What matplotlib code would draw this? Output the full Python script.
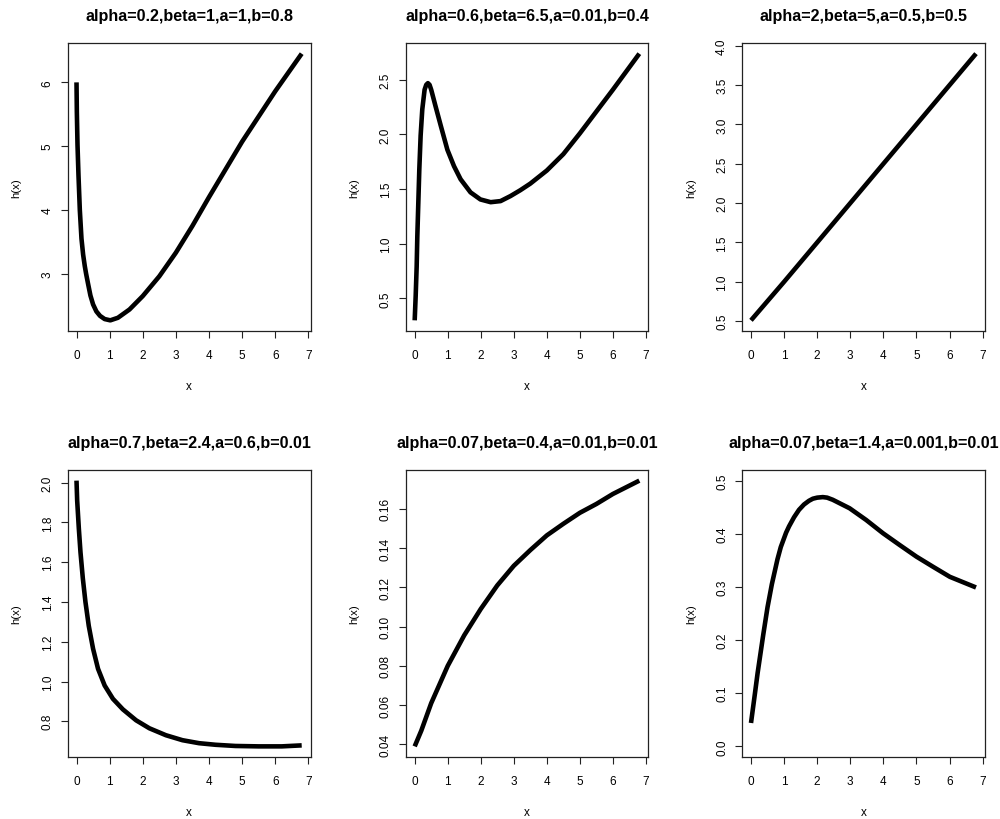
import matplotlib
matplotlib.use("Agg")
import matplotlib.pyplot as plt
from matplotlib.ticker import FixedLocator, FormatStrFormatter

plt.rcParams['font.family'] = ['Liberation Sans', 'DejaVu Sans']

# values
x1 = [0, 0.01, 0.03, 0.06, 0.10, 0.15, 0.20, 0.25, 0.29, 0.35, 0.42, 0.50, 0.60,
      0.71, 0.85, 1.02, 1.25, 1.6, 2.0, 2.5, 3.0, 3.5, 4.0, 5.0, 6.0, 6.8]
h1 = [6.0, 5.54, 5.02, 4.54, 4.0, 3.55, 3.3, 3.12, 3.0, 2.84, 2.66, 2.52, 2.41,
      2.34, 2.29, 2.27, 2.31, 2.44, 2.65, 2.96, 3.33, 3.75, 4.2, 5.07, 5.86, 6.45]

x2 = [0, 0.03, 0.06, 0.08, 0.11, 0.14, 0.18, 0.23, 0.30, 0.35, 0.40, 0.45, 0.50,
      0.63, 0.79, 0.99, 1.19, 1.39, 1.69, 1.99, 2.3, 2.6, 2.9, 3.2, 3.5, 4.0,
      4.5, 5.0, 5.5, 6.0, 6.8]
h2 = [0.298, 0.52, 0.79, 1.07, 1.375, 1.68, 1.99, 2.23, 2.41, 2.455, 2.47, 2.455,
      2.41, 2.26, 2.08, 1.86, 1.71, 1.59, 1.47, 1.405, 1.38, 1.39, 1.436, 1.49,
      1.55, 1.67, 1.82, 2.01, 2.21, 2.41, 2.74]

x3 = [0, 1, 2, 3, 4, 5, 6, 6.8]
h3 = [0.51, 1.0, 1.5, 2.0, 2.5, 3.0, 3.5, 3.9]

x4 = [0, 0.02, 0.07, 0.12, 0.19, 0.27, 0.37, 0.5, 0.65, 0.85, 1.1, 1.4, 1.8,
      2.2, 2.7, 3.2, 3.7, 4.2, 4.8, 5.5, 6.2, 6.8]
h4 = [2.01, 1.91, 1.77, 1.65, 1.52, 1.40, 1.28, 1.165, 1.064, 0.98, 0.913, 0.86,
      0.805, 0.765, 0.73, 0.705, 0.69, 0.682, 0.676, 0.674, 0.674, 0.679]

x5 = [0, 0.2, 0.5, 1, 1.5, 2, 2.5, 3, 3.5, 4, 4.5, 5, 5.5, 6, 6.8]
h5 = [0.039, 0.047, 0.061, 0.080, 0.0956, 0.109, 0.121, 0.131, 0.139, 0.1465,
      0.1524, 0.158, 0.1625, 0.1676, 0.1744]

x6 = [0, 0.12, 0.2, 0.37, 0.5, 0.63, 0.8, 0.9, 1.06, 1.15, 1.3, 1.45, 1.6, 1.75,
      1.87, 2.0, 2.17, 2.3, 2.47, 2.98, 3.48, 3.99, 4.49, 5.0, 5.5, 6.01, 6.8]
h6 = [0.044, 0.1, 0.138, 0.21, 0.262, 0.305, 0.352, 0.375, 0.402, 0.414, 0.431,
      0.445, 0.455, 0.462, 0.466, 0.468, 0.469, 0.468, 0.464, 0.448, 0.426,
      0.401, 0.379, 0.357, 0.338, 0.319, 0.299]

titles = ["alpha=0.2,beta=1,a=1,b=0.8",
          "alpha=0.6,beta=6.5,a=0.01,b=0.4",
          "alpha=2,beta=5,a=0.5,b=0.5",
          "alpha=0.7,beta=2.4,a=0.6,b=0.01",
          "alpha=0.07,beta=0.4,a=0.01,b=0.01",
          "alpha=0.07,beta=1.4,a=0.001,b=0.01"]

xticks = [0, 1, 2, 3, 4, 5, 6, 7]
yticks = [[3, 4, 5, 6],
          [0.5, 1.0, 1.5, 2.0, 2.5],
          [0.5, 1.0, 1.5, 2.0, 2.5, 3.0, 3.5, 4.0],
          [0.8, 1.0, 1.2, 1.4, 1.6, 1.8, 2.0],
          [0.04, 0.06, 0.08, 0.10, 0.12, 0.14, 0.16],
          [0.0, 0.1, 0.2, 0.3, 0.4, 0.5]]
ydec = [0, 1, 1, 1, 2, 1]
ylims = [None, None, None, None, None, (0, 0.5)]

xs = [x1, x2, x3, x4, x5, x6]
hs = [h1, h2, h3, h4, h5, h6]

# plot boxes in pixels: left, right, top, bottom
W, H = 1000, 820
cols = [(67.5, 310.7), (405.7, 648.3), (742.0, 985.0)]
rows = [(44, 332), (471, 758)]

fig = plt.figure(figsize=(W / 100, H / 100), dpi=100)

for i in range(6):
    l, r = cols[i % 3]
    t, b = rows[i // 3]
    ax = fig.add_axes([l / W, 1 - b / H, (r - l) / W, (b - t) / H])
    ax.plot(xs[i], hs[i], color='black', lw=3.3, solid_capstyle='butt',
            solid_joinstyle='round')
    ax.margins(x=0.04, y=0.04)
    if ylims[i] is not None:
        lo, hi = ylims[i]
        pad = (hi - lo) * 0.04
        ax.set_ylim(lo - pad, hi + pad)

    ax.xaxis.set_major_locator(FixedLocator(xticks))
    ax.yaxis.set_major_locator(FixedLocator(yticks[i]))
    ax.yaxis.set_major_formatter(FormatStrFormatter('%.' + str(ydec[i]) + 'f'))
    ax.tick_params(direction='out', length=5, width=0.8, labelsize=8.5,
                   color='#222222')
    ax.tick_params(axis='x', pad=8)
    ax.tick_params(axis='y', pad=5)
    plt.setp(ax.get_yticklabels(), rotation=90, va='center')
    for sp in ax.spines.values():
        sp.set_linewidth(0.9)
        sp.set_color('#222222')

    ax.set_title(titles[i], fontsize=11.6, fontweight='bold', pad=16.5)
    ax.set_xlabel('x', fontsize=8.5, va='center')
    ax.xaxis.set_label_coords(0.5, -55 / (b - t))
    ax.set_ylabel('h(x)', fontsize=8.2, va='center')
    ax.yaxis.set_label_coords(-51 / (r - l), 0.5)

fig.savefig('out.png', dpi=100)
